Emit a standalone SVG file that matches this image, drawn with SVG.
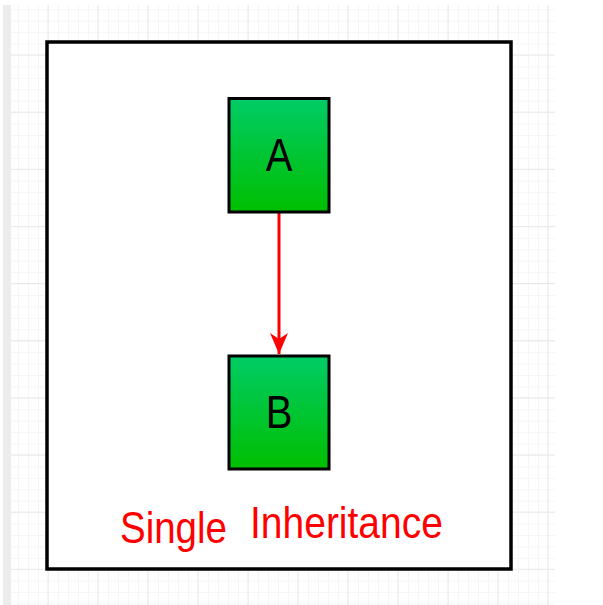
<svg xmlns="http://www.w3.org/2000/svg" width="603" height="605" viewBox="0 0 603 605">
  <defs>
    <pattern id="minor" x="8" y="9.29" width="10" height="11.428" patternUnits="userSpaceOnUse">
      <path d="M0 0.5 H10 M0.5 0 V11.428" fill="none" stroke="#f5f5f5" stroke-width="1"/>
    </pattern>
    <pattern id="major" x="47.5" y="54.5" width="50" height="57.14" patternUnits="userSpaceOnUse">
      <path d="M0 0.5 H50 M0.5 0 V57.14" fill="none" stroke="#e8e8e8" stroke-width="1"/>
    </pattern>
    <linearGradient id="green" x1="0" y1="0" x2="0" y2="1">
      <stop offset="0" stop-color="#00cc66"/>
      <stop offset="1" stop-color="#00bf00"/>
    </linearGradient>
    <marker id="arrow" markerWidth="22" markerHeight="20" refX="21" refY="10" orient="auto" markerUnits="userSpaceOnUse" viewBox="0 0 22 20">
      <path d="M21 10 L0 1 L6 10 L0 19 Z" fill="#ff0000"/>
    </marker>
    <style>
      .node { stroke: #000; stroke-width: 3; fill: url(#green); }
      .lbl { font-family: "Liberation Sans", Arial, sans-serif; fill: #000; text-anchor: middle; }
      .title { font-family: "Liberation Sans", Arial, sans-serif; fill: #ff0000; }
    </style>
  </defs>
  <rect width="603" height="605" fill="#ffffff"/>
  <g id="grid">
    <rect x="11" y="5" width="544" height="600" fill="url(#minor)"/>
    <rect x="11" y="5" width="544" height="600" fill="url(#major)"/>
    <rect x="3" y="5" width="8" height="600" fill="#ececec"/>
  </g>
  <g id="frame">
    <rect x="47" y="42" width="464" height="527" fill="#ffffff" stroke="#000" stroke-width="3.5"/>
  </g>
  <g id="connectors">
    <line x1="279" y1="213" x2="279" y2="354" stroke="#ff0000" stroke-width="3" marker-end="url(#arrow)"/>
  </g>
  <g id="node-A">
    <rect class="node" x="229" y="98.5" width="100" height="113.5"/>
    <text class="lbl" transform="translate(279 171) scale(1 1.14)" font-size="40">A</text>
  </g>
  <g id="node-B">
    <rect class="node" x="229" y="356" width="100" height="113"/>
    <text class="lbl" transform="translate(279 428) scale(1 1.14)" font-size="40">B</text>
  </g>
  <g id="caption">
    <text class="title" transform="translate(120 543) scale(1 1.15)" font-size="38.5">Single</text>
    <text class="title" transform="translate(250 538) scale(1 1.15)" font-size="39">Inheritance</text>
  </g>
</svg>
